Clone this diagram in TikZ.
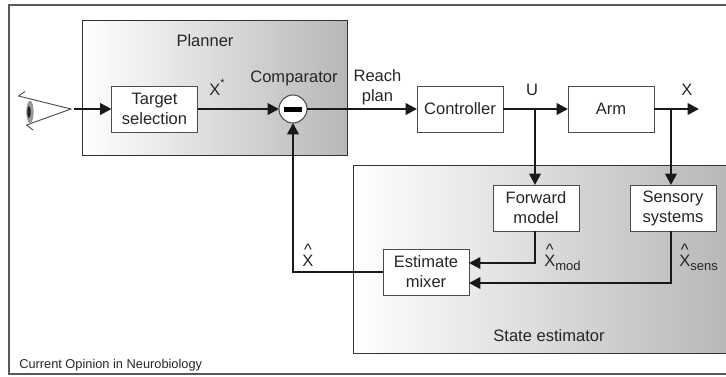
\documentclass[tikz,border=0pt]{standalone}
\usepackage{fontspec}
\setmainfont{Liberation Sans}
\usetikzlibrary{arrows.meta,shapes.geometric}
\newcommand{\hatx}{\makebox[0pt][l]{\makebox[.667em]{\raisebox{.62em}{\^{}}}}X}
\newcommand{\subtext}[1]{\raisebox{-.3em}{\fontsize{9.8}{10}\selectfont #1}}
\begin{document}
\begin{tikzpicture}[x=0.75pt,y=-0.75pt]
      \tikzstyle{point} = [coordinate]
      \tikzstyle{box} = [rectangle, draw=black!70, fill=white, line width=0.7pt, inner sep=0pt, outer sep=0pt, minimum width=64.5pt, minimum height=34.5pt, align=center, text=black!85, font=\fontsize{12.4}{15}\selectfont]
      \tikzstyle{region} = [rectangle, draw=black!80, line width=0.7pt, inner sep=0pt, outer sep=0pt, left color=white, right color=black!28]
      \tikzstyle{tag} = [inner sep=0pt, align=center, text=black!85, font=\fontsize{12.4}{15}\selectfont]
      \tikzstyle{flow} = [line width=1.9pt, draw=black!90, >={Triangle[length=8.5pt,width=8.5pt]}]
      \useasboundingbox (0,0) rectangle (726,376);
      % frame and shaded regions
      \node (frame) at (368.5,189.5) [rectangle, draw=black!65, line width=0.8pt, inner sep=0pt, minimum width=539.25pt, minimum height=276.75pt] {};
      \node (planner) at (214.5,87.5) [region, minimum width=198.75pt, minimum height=101.25pt] {};
      \node (estimator) at (540.5,259) [region, minimum width=281.25pt, minimum height=141pt] {};
      % first row
      \node (target) at (154.5,109) [box] {Target\\selection};
      \node (comparator) at (293,109) [circle, draw=black!70, fill=white, line width=0.8pt, inner sep=0pt, outer sep=0pt, minimum size=21pt] {};
      \node (minusbar) at (comparator) [rectangle, fill=black, inner sep=0pt, minimum width=13.5pt, minimum height=3.75pt] {};
      \node (controller) at (460,109) [box] {Controller};
      \node (arm) at (611,109) [box] {Arm};
      % second row
      \node (forward) at (536,208) [box] {Forward\\model};
      \node (sensory) at (673,208) [box] {Sensory\\systems};
      \node (mixer) at (426,272) [box] {Estimate\\mixer};
      % points
      \coordinate (eye) at (74,109);
      \coordinate (ubranch) at (535,109);
      \coordinate (sbranch) at (671,109);
      \coordinate (xout) at (699,109);
      \coordinate (fmod) at (535,263);
      \coordinate (fsens) at (671,283);
      % eye
      \draw [black!70, line width=0.7pt] (18.5,96)--(71,109)--(26.5,125);
      \draw [black!70, line width=0.7pt] (18.5,96)--(25,91.5);
      \draw [black!70, line width=0.7pt] (26.5,125)--(33,130);
      \node (eyeball) at (30,112) [ellipse, fill=black!40, inner sep=0pt, minimum width=5.5pt, minimum height=17pt] {};
      \node (pupil) at (29,112) [ellipse, fill=black!85, inner sep=0pt, minimum width=2.6pt, minimum height=9pt] {};
      % labels
      \node (plannertxt) at (205,46.5) [tag, anchor=base] {Planner};
      \node (comptxt) at (294,82.5) [tag, anchor=base] {Comparator};
      \node (xstar) at (217,95) [tag, anchor=base] {X\raisebox{.5em}{\fontsize{8}{8}\selectfont *}};
      \node (reach) at (377.5,87) [tag] {Reach\\plan};
      \node (utxt) at (532,95) [tag, anchor=base] {U};
      \node (xtxt) at (687,95) [tag, anchor=base] {X};
      \node (xhat) at (308,266) [tag, anchor=base] {\hatx};
      \node (xmod) at (544,266) [tag, anchor=base west] {\hatx\subtext{mod}};
      \node (xsens) at (679,266) [tag, anchor=base west] {\hatx\subtext{sens}};
      \node (esttxt) at (549,341) [tag, anchor=base] {State estimator};
      \node (credit) at (19,368) [tag, anchor=base west, font=\fontsize{9.6}{11}\selectfont] {Current Opinion in Neurobiology};
      % connectors
      \draw [flow,->] (eye)--(target);
      \draw [flow,->] (target)--(comparator);
      \draw [flow,->] (comparator)--(controller);
      \draw [flow,->] (controller)--(arm);
      \draw [flow,->] (arm)--(xout);
      \draw [flow,->] (ubranch)--(ubranch |- forward.north);
      \draw [flow,->] (sbranch)--(sbranch |- sensory.north);
      \draw [flow,->] (ubranch |- forward.south)--(fmod)--(mixer.east |- fmod);
      \draw [flow,->] (sbranch |- sensory.south)--(fsens)--(mixer.east |- fsens);
      \draw [flow,->] (mixer.west)-|(comparator.south);
    \end{tikzpicture}
\end{document}
